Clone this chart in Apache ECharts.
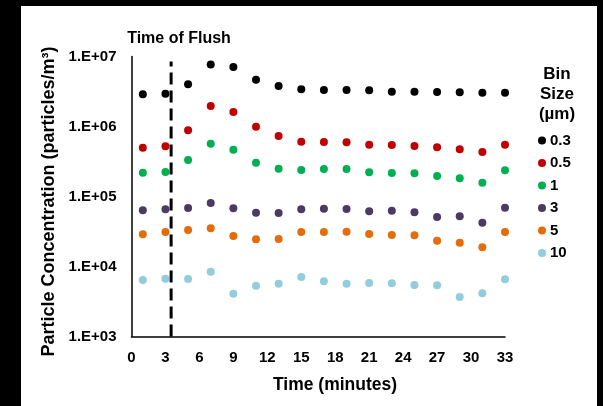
<!DOCTYPE html>
<html>
<head>
<meta charset="utf-8">
<script src="https://cdn.jsdelivr.net/npm/echarts@6/dist/echarts.min.js"></script>
<style>
	html, body { margin: 0; padding: 0; background: #000; }
	#wrap { position: relative; width: 603px; height: 406px; background: #000; }
	#paper { position: absolute; left: 21px; top: 6px; width: 576px; height: 400px; background: #fff; }
	#chart { position: absolute; left: 0; top: 0; width: 603px; height: 406px; }
</style>
</head>
<body>
<div id="wrap">
	<div id="paper"></div>
	<div id="chart"></div>
</div>
<script>
let minutes = [1, 3, 5, 7, 9, 11, 13, 15, 17, 19, 21, 23, 25, 27, 29, 31, 33];
let bin_names = ["0.3", "0.5", "1", "3", "5", "10"];
let bin_colors = ["#000000", "#C00000", "#00B050", "#4B3A63", "#E46C0A", "#92CDDC"];
let flush_time = 3.5;

let bin_03 = [2.9e6, 2.94e6, 4.0e6, 7.7e6, 7.08e6, 4.66e6, 3.79e6, 3.4e6, 3.32e6, 3.32e6, 3.29e6, 3.14e6, 3.14e6, 3.11e6, 3.08e6, 3.04e6, 3.04e6];
let bin_05 = [4.98e5, 5.21e5, 8.83e5, 1.96e6, 1.61e6, 9.93e5, 7.31e5, 6.07e5, 6.01e5, 5.95e5, 5.5e5, 5.44e5, 5.27e5, 5.04e5, 4.72e5, 4.32e5, 5.5e5];
let bin_1 = [2.19e5, 2.24e5, 3.32e5, 5.68e5, 4.66e5, 3.04e5, 2.5e5, 2.39e5, 2.47e5, 2.47e5, 2.22e5, 2.17e5, 2.14e5, 1.96e5, 1.82e5, 1.57e5, 2.37e5];
let bin_3 = [6.35e4, 6.57e4, 6.85e4, 8.07e4, 6.78e4, 5.87e4, 5.81e4, 6.57e4, 6.7e4, 6.63e4, 6.15e4, 6.27e4, 5.95e4, 5.09e4, 5.21e4, 4.22e4, 6.92e4];
let bin_5 = [2.88e4, 3.11e4, 3.32e4, 3.51e4, 2.73e4, 2.45e4, 2.47e4, 3.11e4, 3.11e4, 3.14e4, 2.91e4, 2.82e4, 2.79e4, 2.34e4, 2.19e4, 1.88e4, 3.11e4];
let bin_10 = [6.41e3, 6.7e3, 6.63e3, 8.43e3, 4.08e3, 5.32e3, 5.68e3, 7.08e3, 6.15e3, 5.68e3, 5.81e3, 5.75e3, 5.44e3, 5.38e3, 3.66e3, 4.14e3, 6.56e3];

let bins = [bin_03, bin_05, bin_1, bin_3, bin_5, bin_10];
let flush_span = [1e3, 8.5e6];

let echarts = window.echarts;
let myChart = echarts.init(document.getElementById("chart"));

let font = "'Liberation Sans', Arial, sans-serif";

let series = bins.map((b, i) => {
	return {
		name: bin_names[i],
		type: "scatter",
		symbol: "circle",
		symbolSize: 8,
		itemStyle: { color: bin_colors[i], opacity: 1 },
		data: minutes.map((m, j) => [m, b[j]]),
	};
});

// dashed marker for the flush
series.push({
	name: "flush",
	type: "line",
	symbol: "none",
	silent: true,
	lineStyle: { color: "#000", width: 3, type: [12, 6] },
	data: flush_span.map((v) => [flush_time, v]),
});

let option = {
	animation: false,
	textStyle: { fontFamily: font },
	title: [
		{
			text: "Time of Flush",
			left: 179,
			top: 31,
			padding: 0,
			textAlign: "center",
			textStyle: { fontFamily: font, fontSize: 16, fontWeight: "bold", color: "#000" },
		},
		{
			text: "Bin\nSize\n(µm)",
			left: 557,
			top: 64,
			padding: 0,
			textAlign: "center",
			textStyle: { fontFamily: font, fontSize: 17, lineHeight: 20, fontWeight: "bold", color: "#000" },
		},
		{
			text: "Time (minutes)",
			left: 335,
			top: 376,
			padding: 0,
			textAlign: "center",
			textStyle: { fontFamily: font, fontSize: 17.5, fontWeight: "bold", color: "#000" },
		},
	],
	legend: {
		orient: "vertical",
		left: 538,
		top: 133,
		padding: 0,
		itemWidth: 8,
		itemHeight: 8,
		itemGap: 7.5,
		icon: "circle",
		textStyle: { fontFamily: font, fontSize: 15, lineHeight: 15, fontWeight: "bold", color: "#000", padding: [0, 0, 0, -1] },
		data: bin_names,
	},
	grid: {
		left: 131.5,
		right: 98,
		top: 56.5,
		bottom: 69.5,
	},
	xAxis: {
		type: "value",
		min: 0,
		max: 33,
		interval: 3,
		axisLine: { show: true, lineStyle: { color: "#000", width: 1.5 } },
		axisTick: { show: false },
		splitLine: { show: false },
		axisLabel: { margin: 14, fontFamily: font, fontSize: 15, fontWeight: "bold", color: "#000" },
	},
	yAxis: {
		type: "log",
		logBase: 10,
		min: 1e3,
		max: 1e7,
		name: "Particle Concentration (particles/m³)",
		nameLocation: "middle",
		nameRotate: 90,
		nameGap: 65,
		nameTextStyle: { fontFamily: font, fontSize: 18, fontWeight: "bold", color: "#000", padding: [0, 10, 0, 0] },
		axisLine: { show: true, lineStyle: { color: "#000", width: 1.5 } },
		axisTick: { show: false },
		splitLine: { show: false },
		axisLabel: {
			margin: 15,
			fontFamily: font,
			fontSize: 15,
			fontWeight: "bold",
			color: "#000",
			formatter: function (v) {
				let e = Math.round(Math.log10(v));
				return "1.E+" + (e < 10 ? "0" + e : e);
			},
		},
	},
	series: series,
};

myChart.setOption(option);
</script>
</body>
</html>
